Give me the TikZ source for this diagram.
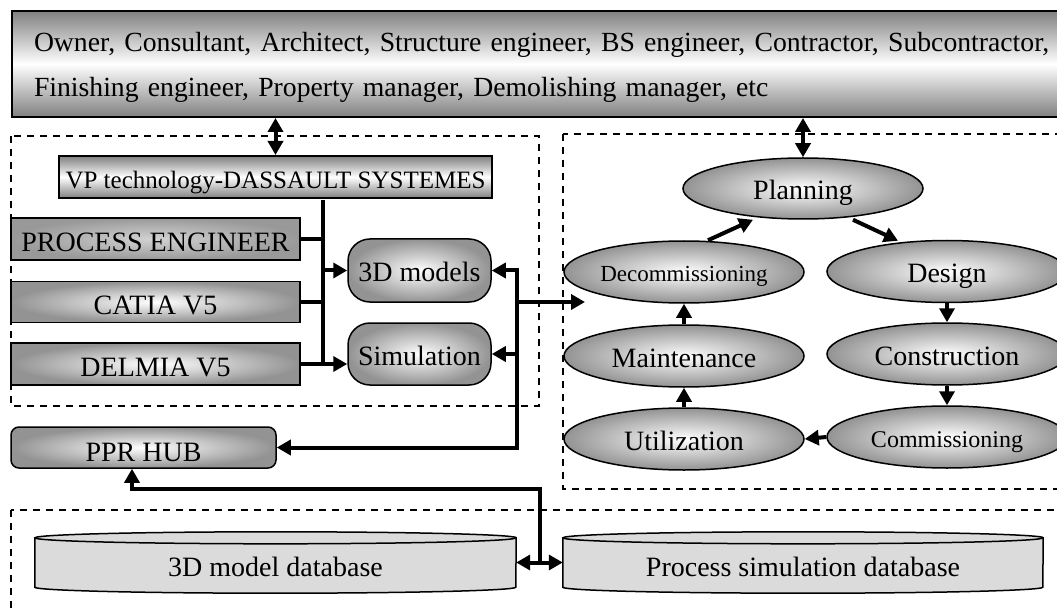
\documentclass[tikz,border=0pt]{standalone}
\usepackage{fontspec}
\setmainfont{Liberation Serif}
\usetikzlibrary{arrows.meta,shapes.geometric,calc}
\pgfdeclarelayer{bg}
\pgfsetlayers{bg,main}
\begin{document}
\begin{tikzpicture}[x=1pt,y=-1pt,
  every node/.style={font=\fontsize{28}{34}\selectfont, inner sep=0pt},
  tx/.style={text height=22pt, text depth=0pt},
  toolTx/.style={text height=25pt, text depth=0pt},
  smalltx/.style={font=\fontsize{23}{28}\selectfont, text height=18pt, text depth=0pt},
  bx/.style={draw, line width=1.5pt, tx},
  vgrad/.style={top color=gray!100, bottom color=gray!100, middle color=white},
  rgrad/.style={inner color=white, outer color=gray!85},
  dgrad/.style={inner color=gray!35, outer color=gray!80},
  lifeell/.style={ellipse, draw, line width=1.5pt, rgrad, tx, minimum width=240pt, minimum height=62pt},
  dashbox/.style={draw, dash pattern=on 7pt off 6pt, line width=1.3pt},
  conn/.style={line width=4pt},
  arr/.style={line width=4pt, -{Triangle[length=14pt,width=15pt]}},
  dblarr/.style={line width=4pt, {Triangle[length=14pt,width=15pt]}-{Triangle[length=14pt,width=15pt]}},
  dbbody/.style={fill=gray!28, draw, line width=1.5pt},
]
\useasboundingbox (0,0) rectangle (1057,612);

% dashed group frames
\draw[dashbox] (11,136) rectangle (539,406);
\draw[dashbox] (563,134) rectangle (1075,489);
\draw[dashbox] (11,510) rectangle (1075,650);

% stakeholders
\node[draw, line width=2pt, vgrad, anchor=north west, minimum height=106pt,
      inner xsep=22pt, text width=1040pt, align=left,
      font=\fontsize{27.7}{45}\selectfont] (top) at (11,10)
  {\rule{0pt}{25pt}Owner, Consultant, Architect, Structure engineer, BS engineer, Contractor, Subcontractor,\\
   Finishing engineer, Property manager, Demolishing manager, etc};

% left group
\node[bx, line width=2pt, vgrad, minimum width=433pt, minimum height=42pt,
      font=\fontsize{25}{30}\selectfont, text height=24pt, text depth=0pt] (vp) at (275.5,177) {VP technology-DASSAULT SYSTEMES};
\node[bx, dgrad, toolTx, minimum width=289pt, minimum height=42pt] (pe) at (155.5,239) {PROCESS ENGINEER};
\node[bx, rgrad, toolTx, minimum width=289pt, minimum height=41pt] (ca) at (155.5,302) {CATIA V5};
\node[bx, rgrad, toolTx, minimum width=289pt, minimum height=42pt] (dl) at (155.5,364) {DELMIA V5};
\node[bx, rgrad, rounded corners=22pt, minimum width=143pt, minimum height=63pt] (m3d) at (419.5,270.5) {3D models};
\node[bx, rgrad, rounded corners=22pt, minimum width=143pt, minimum height=62pt] (sim) at (419.5,354) {Simulation};
\node[bx, rgrad, rounded corners=8pt, text height=27pt, minimum width=265pt, minimum height=41pt] (ppr) at (143.5,447.5) {PPR HUB};

% life cycle
\node[lifeell, minimum height=61pt] (plan) at (803,188.5) {Planning};
\node[lifeell, smalltx] (deco) at (684,272) {Decommissioning};
\node[lifeell] (des) at (947,271.5) {Design};
\node[lifeell] (mnt) at (684,356) {Maintenance};
\node[lifeell] (con) at (947,354) {Construction};
\node[lifeell] (utl) at (684,439) {Utilization};
\node[lifeell, smalltx, font=\fontsize{24}{28}\selectfont, text height=20pt] (com) at (947,437) {Commissioning};

% databases
\node[text height=28pt, text depth=0pt, minimum width=481pt, minimum height=49pt] (db1) at (275.5,562.5) {3D model database};
\node[text height=28pt, text depth=0pt, minimum width=480pt, minimum height=49pt] (db2) at (803,562.5) {Process simulation database};
\begin{pgfonlayer}{bg}
\draw[dbbody] (db1.north west) -- (db1.south west)
  arc[start angle=180,end angle=360,x radius=240.5pt,y radius=6pt] -- (db1.north east)
  arc[start angle=0,end angle=180,x radius=240.5pt,y radius=6pt] -- cycle;
\draw[line width=1.5pt] (db1.north west) arc[start angle=180,end angle=360,x radius=240.5pt,y radius=6pt];
\draw[dbbody] (db2.north west) -- (db2.south west)
  arc[start angle=180,end angle=360,x radius=240pt,y radius=6pt] -- (db2.north east)
  arc[start angle=0,end angle=180,x radius=240pt,y radius=6pt] -- cycle;
\draw[line width=1.5pt] (db2.north west) arc[start angle=180,end angle=360,x radius=240pt,y radius=6pt];
\end{pgfonlayer}

% helper coordinates
\coordinate (bus) at (323,0);
\coordinate (rbus) at (517,0);
\coordinate (lcin) at (585,302);
\coordinate (bend) at (0,489);
\coordinate (pprin) at ([xshift=-11.5pt]ppr.south);
\coordinate (mid) at ($(db1.east)!0.5!(db2.west)$);

% top links
\draw[dblarr] (vp.north |- top.south) -- (vp.north);
\draw[dblarr] (plan.north |- top.south) -- (plan.north);

% tool bus
\draw[conn] ([yshift=-1pt]vp.south -| bus) -- ([yshift=-2pt]bus |- dl.east);
\draw[conn] (pe.east) -- (pe.east -| bus);
\draw[conn] (ca.east) -- (ca.east -| bus);
\draw[conn] (dl.east) -- (dl.east -| bus);
\draw[arr] (bus |- m3d.west) -- (m3d.west);
\draw[arr] (dl.east -| bus) -- (dl.east -| sim.west);

% right bus
\draw[dblarr] (m3d.east) -- (rbus |- m3d.east) -- (rbus |- ppr.east) -- (ppr.east);
\draw[arr] (rbus |- sim.east) -- (sim.east);
\draw[arr] (rbus |- lcin) -- (lcin);

% database links
\draw[dblarr] (db1.east) -- (db2.west);
\draw[arr] (mid) -- (mid |- bend) -- (pprin |- bend) -- (pprin);

% life cycle arrows
\draw[arr] ([xshift=24pt]deco.north) -- ([xshift=-50pt]plan.south);
\draw[arr] ([xshift=50pt]plan.south) -- ([xshift=-49pt,yshift=-1pt]des.north);
\draw[arr] (des.south) -- (con.north);
\draw[arr] (con.south) -- (com.north);
\draw[arr] (com.west) -- (utl.east);
\draw[arr] (utl.north) -- (mnt.south);
\draw[arr] (mnt.north) -- (deco.south);
\end{tikzpicture}
\end{document}
